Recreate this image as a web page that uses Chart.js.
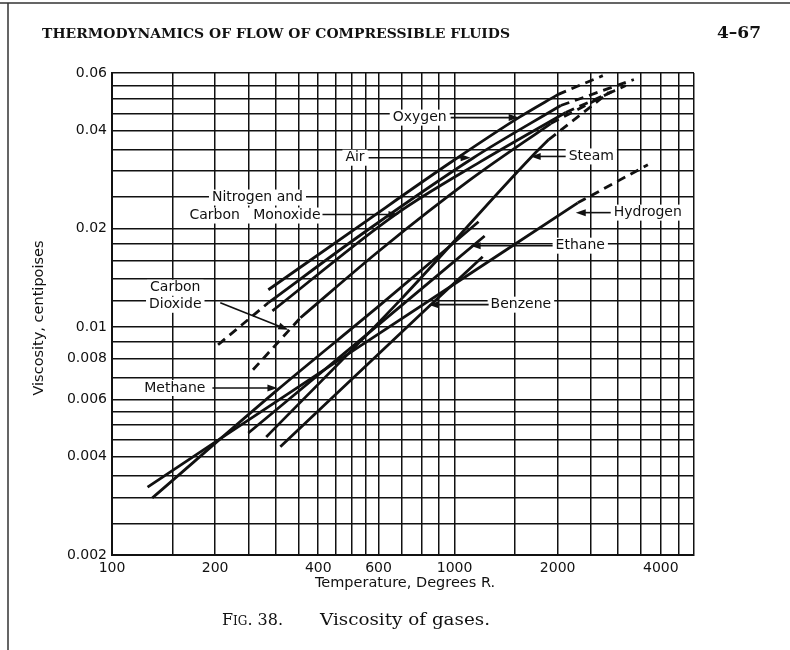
<!DOCTYPE html>
<html>
<head>
<meta charset="utf-8">
<title>Viscosity of gases</title>
<script src="https://cdn.jsdelivr.net/npm/chart.js@4.4.1/dist/chart.umd.min.js"></script>
<style>
  html, body { margin: 0; background: #fff; }
  #wrap { width: 790px; height: 650px; position: relative; }
</style>
</head>
<body>
<div id="wrap"><canvas id="chart"></canvas></div>
<script>
// grid lines of the log paper, and which of them carry a label
const tempTicks = [100, 150, 200, 250, 300, 350, 400, 450, 500, 550, 600, 700, 800, 900,
  1000, 1500, 2000, 2500, 3000, 3500, 4000, 4500, 5000];
const tempLabels = [100, 200, 400, 600, 1000, 2000, 4000];
const viscTicks = [0.002, 0.0025, 0.003, 0.0035, 0.004, 0.0045, 0.005, 0.0055, 0.006, 0.007,
  0.008, 0.009, 0.01, 0.012, 0.014, 0.016, 0.018, 0.02, 0.025, 0.03, 0.035, 0.04, 0.045,
  0.05, 0.055, 0.06];
const viscLabels = [0.002, 0.004, 0.006, 0.008, 0.01, 0.02, 0.04, 0.06];

// [temperature °R, viscosity cP]
const oxygen = [[286, 0.0130], [538, 0.0207], [973, 0.0319], [1539, 0.0438], [2000, 0.0515]];
const oxygenExt = [[2000, 0.0515], [2709, 0.0589]];
const airLow = [[204, 0.00882], [286, 0.01186]];
const air = [[286, 0.01186], [538, 0.0193], [1136, 0.0330], [2042, 0.0477]];
const airExt = [[2042, 0.0477], [3337, 0.0573]];
const nitrogen = [[294, 0.0112], [672, 0.0221], [1191, 0.0321], [2112, 0.0454]];
const nitrogenExt = [[2112, 0.0454], [3162, 0.0549]];
const co2Low = [[258, 0.00739], [355, 0.01067]];
const co2 = [[355, 0.01067], [608, 0.01724], [1114, 0.0283], [1909, 0.0420]];
const co2Ext = [[1909, 0.0420], [2957, 0.0534]];
const steam = [[282, 0.0046], [695, 0.0121], [1668, 0.0330], [1883, 0.0375]];
const steamExt = [[1883, 0.0375], [2820, 0.0523]];
const methane = [[131, 0.00299], [304, 0.00641], [608, 0.0117], [1175, 0.0210]];
const hydrogen = [[127, 0.00323], [531, 0.00875], [2289, 0.0240]];
const hydrogenExt = [[2289, 0.0240], [3667, 0.0314]];
const ethane = [[250, 0.00473], [531, 0.00913], [1224, 0.0190]];
const benzene = [[310, 0.00429], [840, 0.01153], [1208, 0.0164]];

// labels with arrows: tip in data units, tail/text offsets in pixels from the tip
const notes = [
  { lines: ["Oxygen"], tip: [1539, 0.0438], tail: [-68, 0], text: [-72, 0], align: "right" },
  { lines: ["Air"], tip: [1114, 0.0330], tail: [-102, 0], text: [-106, 0], align: "right" },
  { lines: ["Carbon   Monoxide"], tip: [686, 0.0221], tail: [-76, 0], text: [-78, 1], align: "right" },
  { lines: ["Nitrogen and"], tip: [686, 0.0221], text: [-141, -17], align: "center" },
  { lines: ["Steam"], tip: [1668, 0.0333], tail: [35, 0], text: [38, 0], align: "left" },
  { lines: ["Hydrogen"], tip: [2258, 0.0224], tail: [35, 0], text: [38, 0], align: "left" },
  { lines: ["Ethane"], tip: [1114, 0.01774], tail: [82, 0], text: [85, 0], align: "left" },
  { lines: ["Benzene"], tip: [840, 0.0117], tail: [60, 0], text: [62, 0], align: "left" },
  { lines: ["Methane"], tip: [304, 0.0065], tail: [-65, 0], text: [-72, 0], align: "right" },
  { lines: ["Carbon", "Dioxide"], tip: [327, 0.0098], tail: [-68, -27], text: [-113, -42], align: "center" }
];

const INK = "#111";

function pts(arr) {
  return arr.map(function (p) { return { x: p[0], y: p[1] }; });
}

function curve(arr, dashed) {
  return {
    data: pts(arr),
    showLine: true,
    borderColor: INK,
    borderWidth: 2.8,
    borderDash: dashed ? [9, 6] : [],
    pointRadius: 0,
    cubicInterpolationMode: "monotone",
    fill: false
  };
}

function arrow(ctx, x0, y0, x1, y1) {
  const a = Math.atan2(y1 - y0, x1 - x0);
  ctx.beginPath();
  ctx.moveTo(x0, y0);
  ctx.lineTo(x1 - 7 * Math.cos(a), y1 - 7 * Math.sin(a));
  ctx.stroke();
  ctx.beginPath();
  ctx.moveTo(x1, y1);
  ctx.lineTo(x1 - 10 * Math.cos(a) + 3.5 * Math.sin(a), y1 - 10 * Math.sin(a) - 3.5 * Math.cos(a));
  ctx.lineTo(x1 - 10 * Math.cos(a) - 3.5 * Math.sin(a), y1 - 10 * Math.sin(a) + 3.5 * Math.cos(a));
  ctx.closePath();
  ctx.fill();
}

function fitText(ctx, text, x, y, width) {
  const w = ctx.measureText(text).width;
  ctx.save();
  ctx.translate(x, y);
  ctx.scale(width / w, 1);
  ctx.fillText(text, 0, 0);
  ctx.restore();
}

const paper = {
  id: "paper",
  beforeDraw(chart) {
    const ctx = chart.ctx;
    ctx.save();
    ctx.fillStyle = "#fff";
    ctx.fillRect(0, 0, chart.width, chart.height);
    ctx.strokeStyle = "#333";
    ctx.lineWidth = 1.5;
    ctx.beginPath();
    ctx.moveTo(0, 3); ctx.lineTo(chart.width, 3);
    ctx.moveTo(8, 3); ctx.lineTo(8, chart.height);
    ctx.stroke();
    ctx.restore();
  },
  afterDatasetsDraw(chart) {
    const ctx = chart.ctx;
    const xs = chart.scales.x, ys = chart.scales.y;
    ctx.save();
    ctx.font = "14px 'DejaVu Sans'";
    ctx.textBaseline = "middle";
    ctx.fillStyle = INK;
    ctx.strokeStyle = INK;
    ctx.lineWidth = 1.6;
    notes.forEach(function (n) {
      const tx = xs.getPixelForValue(n.tip[0]);
      const ty = ys.getPixelForValue(n.tip[1]);
      n.lines.forEach(function (line, i) {
        const w = ctx.measureText(line).width;
        const px = tx + n.text[0];
        const py = ty + n.text[1] + i * 17;
        const left = n.align === "right" ? px - w : n.align === "center" ? px - w / 2 : px;
        ctx.fillStyle = "#fff";
        ctx.fillRect(left - 3, py - 8, w + 6, 16);
        ctx.fillStyle = INK;
        ctx.textAlign = "left";
        ctx.fillText(line, left, py);
      });
      if (n.tail) arrow(ctx, tx + n.tail[0], ty + n.tail[1], tx, ty);
    });
    ctx.restore();
  },
  afterDraw(chart) {
    const ctx = chart.ctx;
    ctx.save();
    ctx.fillStyle = INK;
    ctx.textBaseline = "alphabetic";
    ctx.textAlign = "left";
    ctx.font = "bold 13px 'DejaVu Serif'";
    fitText(ctx, "THERMODYNAMICS OF FLOW OF COMPRESSIBLE FLUIDS", 42, 38, 468);
    ctx.font = "bold 17px 'DejaVu Serif'";
    fitText(ctx, "4\u201367", 717, 38, 44);

    ctx.font = "14.5px 'DejaVu Sans'";
    ctx.textAlign = "center";
    ctx.fillText("Temperature, Degrees R.", 405, 587);
    ctx.save();
    ctx.translate(43, 318);
    ctx.rotate(-Math.PI / 2);
    ctx.fillText("Viscosity, centipoises", 0, 0);
    ctx.restore();

    // caption, with small-caps "Fig."
    ctx.textAlign = "left";
    let x = 222;
    ctx.font = "16px 'DejaVu Serif'";
    ctx.fillText("F", x, 625);
    x += ctx.measureText("F").width;
    ctx.font = "12px 'DejaVu Serif'";
    ctx.fillText("IG", x, 625);
    x += ctx.measureText("IG").width;
    ctx.font = "16px 'DejaVu Serif'";
    ctx.fillText(". 38.", x, 625);
    fitText(ctx, "Viscosity of gases.", 320, 625, 170);
    ctx.restore();
  }
};

new Chart(document.getElementById("chart"), {
  type: "scatter",
  data: {
    datasets: [
      curve(oxygen), curve(oxygenExt, true),
      curve(airLow, true), curve(air), curve(airExt, true),
      curve(nitrogen), curve(nitrogenExt, true),
      curve(co2Low, true), curve(co2), curve(co2Ext, true),
      curve(steam), curve(steamExt, true),
      curve(methane),
      curve(hydrogen), curve(hydrogenExt, true),
      curve(ethane),
      curve(benzene)
    ]
  },
  options: {
    responsive: true,
    maintainAspectRatio: false,
    animation: false,
    layout: { padding: { left: 0, right: 96, top: 73, bottom: 0 } },
    plugins: { legend: { display: false }, tooltip: { enabled: false } },
    scales: {
      x: {
        type: "logarithmic",
        min: 100,
        max: 5000,
        afterBuildTicks: function (s) { s.ticks = tempTicks.map(function (v) { return { value: v }; }); },
        afterFit: function (s) { s.height = 95; },
        ticks: {
          autoSkip: false, maxRotation: 0, padding: 5, color: INK,
          font: { family: "DejaVu Sans", size: 14 },
          callback: function (v) { return tempLabels.includes(v) ? String(v) : ""; }
        },
        grid: { color: INK, lineWidth: 1.5, drawTicks: false },
        border: { color: INK, width: 2 }
      },
      y: {
        type: "logarithmic",
        min: 0.002,
        max: 0.06,
        afterBuildTicks: function (s) { s.ticks = viscTicks.map(function (v) { return { value: v }; }); },
        afterFit: function (s) { s.width = 112; },
        ticks: {
          autoSkip: false, padding: 5, color: INK,
          font: { family: "DejaVu Sans", size: 14 },
          callback: function (v) { return viscLabels.includes(v) ? String(v) : ""; }
        },
        grid: { color: INK, lineWidth: 1.5, drawTicks: false },
        border: { color: INK, width: 2 }
      }
    }
  },
  plugins: [paper]
});
</script>
</body>
</html>
